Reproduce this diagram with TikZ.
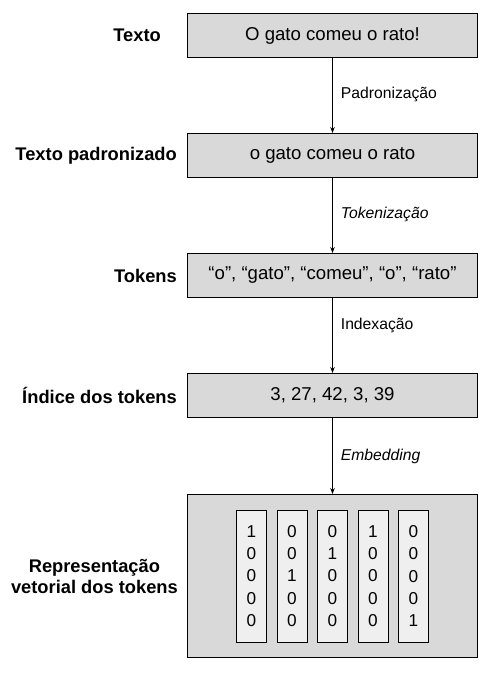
\documentclass[tikz,border=0pt]{standalone}
\usepackage{fontspec}
\setmainfont{Liberation Sans}
\usetikzlibrary{positioning,arrows.meta}
\definecolor{boxgray}{HTML}{D9D9D9}
\definecolor{colgray}{HTML}{EFEFEF}
\tikzset{
stage/.style={
	  draw, fill=boxgray, line width=1pt, minimum width=290pt,
	    minimum height=44pt, inner sep=0pt, font=\fontsize{18.6}{22}\selectfont},
rowlabel/.style={inner sep=0pt, align=center,
	  font=\bfseries\fontsize{18.3}{21}\selectfont},
onehot/.style={draw, fill=colgray, line width=1pt, minimum width=30pt,
	  minimum height=132pt, inner sep=0pt, align=center,
	    font=\fontsize{17.2}{22.3}\selectfont},
flow/.style={-{Stealth[length=6pt,width=4.5pt]}, line width=0.8pt},
flowlabel/.style={right=8pt, inner sep=0pt, font=\fontsize{15.7}{19}\selectfont}
}

\begin{document}
\begin{tikzpicture}[node distance=75pt]
	\useasboundingbox (0,0) rectangle (488pt,-674pt);
	\node[stage] (texto) at (332.5pt,-35.5pt) {O gato comeu o rato!};
	\node[stage, below=of texto] (padrao) {o gato comeu o rato};
	\node[stage, below=of padrao] (tokens) {“o”, “gato”, “comeu”, “o”, “rato”};
	\node[stage, below=of tokens] (indice) {3, 27, 42, 3, 39};
	\node[stage, minimum height=163pt, below=76pt of indice] (vetor) {};
	% colunas one-hot
	\node[onehot] (v3) at (vetor) {0\\1\\0\\0\\0};
	\node[onehot, left=9.5pt of v3] (v2) {0\\0\\1\\0\\0};
	\node[onehot, left=9.5pt of v2] (v1) {1\\0\\0\\0\\0};
	\node[onehot, right=9.5pt of v3] (v4) {1\\0\\0\\0\\0};
	\node[onehot, right=9.5pt of v4] (v5) {0\\0\\0\\0\\1};
	% rotulos
	\node[rowlabel, left=26pt of texto] {Texto};
	\node[rowlabel, left=10pt of padrao] {Texto padronizado};
	\node[rowlabel, left=10pt of tokens] {Tokens};
	\node[rowlabel, left=10pt of indice] {Índice dos tokens};
	\node[rowlabel, left=9pt of vetor] {Representação\\vetorial dos tokens};
	% setas
	\draw[flow] (texto) -- node[flowlabel, pos=0.49] {Padronização} (padrao);
	\draw[flow] (padrao) -- node[flowlabel, pos=0.48] {\itshape Tokenização} (tokens);
	\draw[flow] (tokens) -- node[flowlabel, pos=0.37] {Indexação} (indice);
	\draw[flow] (indice) -- node[flowlabel, pos=0.5] {\itshape Embedding} (vetor);
\end{tikzpicture}
\end{document}
